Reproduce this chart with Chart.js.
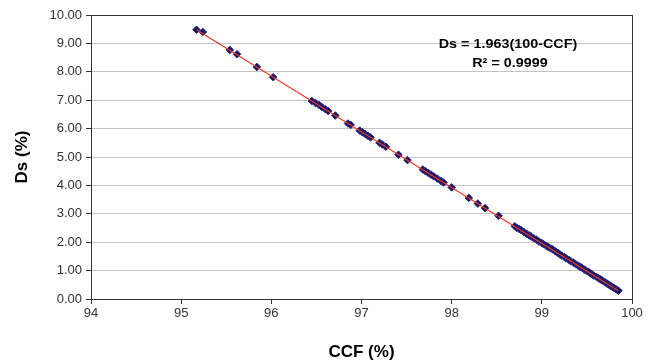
<!DOCTYPE html>
<html>
<head>
<meta charset="utf-8">
<script src="https://cdn.jsdelivr.net/npm/chart.js@4.4.1/dist/chart.umd.min.js"></script>
<style>
html,body{margin:0;padding:0;background:#fff;overflow:hidden;}
#wrap{width:652px;height:364px;position:relative;}
</style>
</head>
<body>
<div id="wrap"><canvas id="c" width="652" height="364"></canvas></div>
<script>
// CCF (%) values of measured points
const ccf = [95.17, 95.24, 95.54, 95.62, 95.84, 96.02,
  96.45, 96.49, 96.53, 96.56, 96.60, 96.63, 96.71, 96.85, 96.88,
  96.98, 97.01, 97.04, 97.07, 97.10, 97.20, 97.23, 97.27, 97.41, 97.51,
  97.68, 97.71, 97.74, 97.77, 97.80, 97.84, 97.88, 97.91, 98.00,
  98.19, 98.29, 98.37, 98.52,
  98.70, 98.72, 98.75, 98.77, 98.80, 98.83, 98.86, 98.88, 98.91, 98.94,
  98.97, 99.00, 99.02, 99.05, 99.07, 99.10, 99.12, 99.15, 99.18, 99.20,
  99.22, 99.25, 99.27, 99.30, 99.32, 99.35, 99.37, 99.40, 99.42, 99.44,
  99.47, 99.49, 99.52, 99.54, 99.56, 99.58, 99.61, 99.63, 99.65, 99.67,
  99.70, 99.72, 99.74, 99.76, 99.78, 99.80, 99.82, 99.84, 99.85];
// Ds (%) values of measured points
const ds = [9.48, 9.40, 8.77, 8.62, 8.17, 7.81,
  6.97, 6.90, 6.83, 6.76, 6.68, 6.62, 6.46, 6.18, 6.13,
  5.93, 5.87, 5.81, 5.75, 5.69, 5.50, 5.44, 5.36, 5.08, 4.89,
  4.56, 4.50, 4.44, 4.38, 4.32, 4.24, 4.16, 4.10, 3.93,
  3.56, 3.36, 3.20, 2.93,
  2.56, 2.51, 2.46, 2.43, 2.36, 2.30, 2.24, 2.20, 2.14, 2.09,
  2.02, 1.97, 1.93, 1.87, 1.83, 1.78, 1.75, 1.68, 1.62, 1.57,
  1.53, 1.48, 1.43, 1.38, 1.33, 1.28, 1.24, 1.18, 1.14, 1.11,
  1.04, 1.00, 0.95, 0.90, 0.86, 0.82, 0.77, 0.73, 0.69, 0.65,
  0.59, 0.55, 0.51, 0.47, 0.43, 0.39, 0.35, 0.31, 0.29];
// Trendline end points
const trendX = [95.17, 99.85];
const trendY = [9.48, 0.29];
// Annotation texts
const eqText = "Ds = 1.963(100-CCF)";
const r2Text = "R\u00B2 = 0.9999";
const xTitle = "CCF (%)";
const yTitle = "Ds (%)";

const FONT = 'Arial, "Liberation Sans", sans-serif';

const points = ccf.map((x, i) => ({x: x, y: ds[i]}));
const trend = trendX.map((x, i) => ({x: x, y: trendY[i]}));

const boxPlugin = {
  id: 'boxPlugin',
  afterDraw(chart) {
    const {ctx, chartArea: a} = chart;
    ctx.save();
    ctx.strokeStyle = '#333';
    ctx.lineWidth = 1;
    ctx.strokeRect(Math.round(a.left) + 0.5, Math.round(a.top) + 0.5,
      Math.round(a.right - a.left), Math.round(a.bottom - a.top));
    ctx.fillStyle = '#000';
    ctx.font = 'bold 12.5px ' + FONT;
    ctx.textAlign = 'center';
    ctx.textBaseline = 'middle';
    ctx.save();
    ctx.translate(508, 45);
    ctx.scale(1.15, 1);
    ctx.fillText(eqText, 0, 0);
    ctx.restore();
    ctx.save();
    ctx.translate(510, 64);
    ctx.scale(1.15, 1);
    ctx.fillText(r2Text, 0, 0);
    ctx.restore();
    ctx.restore();
  }
};

new Chart(document.getElementById('c'), {
  type: 'scatter',
  data: {
    datasets: [
      {
        type: 'line',
        label: 'trend',
        data: trend,
        borderColor: '#f03a2a',
        borderWidth: 1.2,
        pointRadius: 0,
        fill: false
      },
      {
        label: 'Ds',
        data: points,
        pointStyle: 'rectRot',
        pointRadius: 3.8,
        backgroundColor: '#14145e',
        borderColor: '#2d2a86',
        borderWidth: 1
      }
    ]
  },
  options: {
    responsive: false,
    animation: false,
    events: [],
    layout: {padding: {top: 15, right: 20, left: 0, bottom: 0}},
    plugins: {legend: {display: false}, tooltip: {enabled: false}},
    scales: {
      x: {
        type: 'linear',
        min: 94, max: 100,
        afterFit(s) { s.height = 65; },
        ticks: {stepSize: 1, color: '#333', padding: 2, font: {family: FONT, size: 13}},
        grid: {drawOnChartArea: false, drawTicks: true, tickLength: 5, tickColor: '#333'},
        border: {color: '#333'},
        title: {display: true, text: xTitle, color: '#000', font: {family: FONT, size: 17, weight: 'bold'}, padding: {top: 0, bottom: 1}}
      },
      y: {
        min: 0, max: 10,
        afterFit(s) { s.width = 91; },
        ticks: {stepSize: 1, color: '#333', padding: 4, font: {family: FONT, size: 13},
          callback: v => Number(v).toFixed(2)},
        grid: {color: '#c4c4c4', drawTicks: true, tickLength: 5, tickColor: '#333'},
        border: {color: '#333'},
        title: {display: true, text: yTitle, color: '#000', font: {family: FONT, size: 17, weight: 'bold'}, padding: {top: 12, bottom: 0}}
      }
    }
  },
  plugins: [boxPlugin]
});
</script>
</body>
</html>
